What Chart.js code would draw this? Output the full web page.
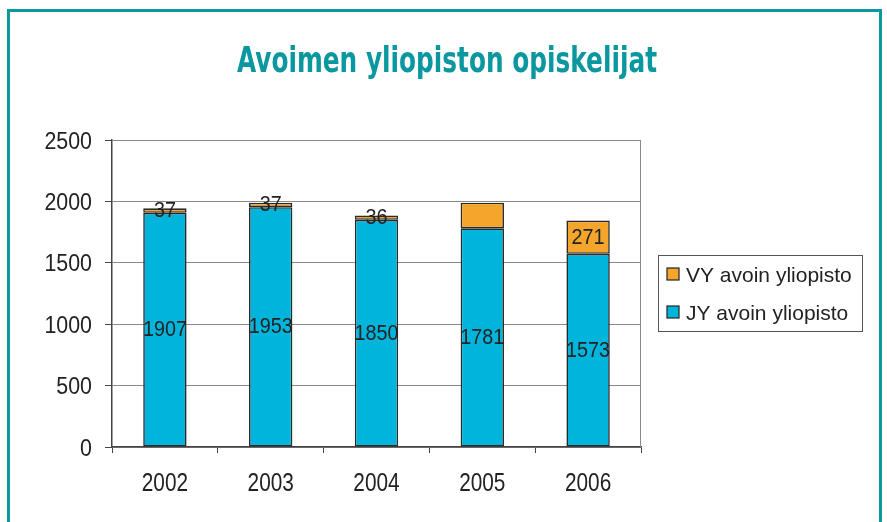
<!DOCTYPE html>
<html>
<head>
<meta charset="utf-8">
<script src="https://cdn.jsdelivr.net/npm/chart.js@4.4.1/dist/chart.umd.min.js"></script>
<style>
  html, body { margin:0; padding:0; background:#fff; overflow:hidden; }
  body { width:887px; height:522px; position:relative; }
  #frame { position:absolute; left:7px; top:9px; width:869px; height:600px; border:3px solid #0a979f; }
  #c { position:absolute; left:0; top:0; }
</style>
</head>
<body>
<div id="frame"></div>
<canvas id="c" width="887" height="522"></canvas>
<script>
// data
const years = ['2002','2003','2004','2005','2006'];
const jyValues = [1907, 1953, 1850, 1781, 1573];
const vyValues = [37, 37, 36, 208, 271];
const vyShowLabel = [true, true, true, false, true];
const yTicks = [0, 500, 1000, 1500, 2000, 2500];

const titleText = 'Avoimen yliopiston opiskelijat';
const FONT = "'Liberation Sans', Arial, sans-serif";
const NARROW = "'Liberation Sans Narrow', 'DejaVu Sans Condensed', sans-serif";

// the original uses a narrow helvetica, so squeeze text horizontally
function squeezedText(ctx, text, x, y, size, sx, align){
  ctx.save();
  ctx.font = size + 'px ' + FONT;
  ctx.textBaseline = 'alphabetic';
  const w = ctx.measureText(text).width * sx;
  let left = x;
  if (align === 'center') left = x - w / 2;
  if (align === 'right') left = x - w;
  ctx.translate(left, y);
  ctx.scale(sx, 1);
  ctx.textAlign = 'left';
  ctx.fillText(text, 0, 0);
  ctx.restore();
}

const decorPlugin = {
  id: 'decor',
  afterDatasetsDraw(chart){
    const ctx = chart.ctx;
    ctx.save();
    ctx.fillStyle = '#222';
    // labels inside the bars
    chart.data.datasets.forEach((ds, di) => {
      const meta = chart.getDatasetMeta(di);
      meta.data.forEach((bar, i) => {
        if (ds.showLabel && !ds.showLabel[i]) return;
        const mid = (bar.y + bar.base) / 2;
        squeezedText(ctx, String(ds.data[i]), bar.x, mid + 6.5, 21.5, 0.92, 'center');
      });
    });
    ctx.restore();
  },
  afterDraw(chart){
    const ctx = chart.ctx;
    const a = chart.chartArea;
    ctx.save();
    // top & right border of the plot area
    ctx.strokeStyle = '#8a8a8a';
    ctx.lineWidth = 1;
    ctx.beginPath();
    ctx.moveTo(a.left, a.top + 0.5);
    ctx.lineTo(a.right - 0.5, a.top + 0.5);
    ctx.lineTo(a.right - 0.5, a.bottom);
    ctx.stroke();

    // tick labels
    ctx.fillStyle = '#222';
    const ys = chart.scales.y;
    ys.ticks.forEach((t, i) => {
      squeezedText(ctx, String(t.value), 92, ys.getPixelForTick(i) + 8.5, 23, 0.93, 'right');
    });
    const xs = chart.scales.x;
    xs.ticks.forEach((t, i) => {
      squeezedText(ctx, chart.data.labels[i], xs.getPixelForTick(i), 491, 26, 0.8, 'center');
    });

    // title
    ctx.font = 'bold 36px ' + NARROW;
    ctx.fillStyle = '#0a979f';
    ctx.textBaseline = 'alphabetic';
    ctx.textAlign = 'left';
    const w = ctx.measureText(titleText).width;
    const sx = w > 420 ? 420 / w : 1;
    ctx.translate(447 - (w * sx) / 2, 72);
    ctx.scale(sx, 1);
    ctx.fillText(titleText, 0, 0);
    ctx.restore();

    // legend box
    ctx.save();
    ctx.strokeStyle = '#555';
    ctx.lineWidth = 1;
    ctx.strokeRect(658.5, 255.5, 204, 76);
    const items = chart.data.datasets.slice().reverse();
    items.forEach((ds, k) => {
      const cy = 274 + k * 38;
      ctx.fillStyle = ds.backgroundColor;
      ctx.fillRect(667, cy - 6, 12, 12);
      ctx.strokeStyle = '#222';
      ctx.lineWidth = 1.2;
      ctx.strokeRect(667, cy - 6, 12, 12);
      ctx.fillStyle = '#222';
      squeezedText(ctx, ds.label, 686, cy + 8, 21, 1, 'left');
    });
    ctx.restore();
  }
};

new Chart(document.getElementById('c'), {
  type: 'bar',
  data: {
    labels: years,
    datasets: [
      {
        label: 'JY avoin yliopisto',
        data: jyValues,
        backgroundColor: '#00b4dc',
        borderColor: '#2a2a2a',
        borderWidth: 1.6,
        borderSkipped: false
      },
      {
        label: 'VY avoin yliopisto',
        data: vyValues,
        showLabel: vyShowLabel,
        backgroundColor: '#f4a52c',
        borderColor: '#2a2a2a',
        borderWidth: 1.6,
        borderSkipped: false
      }
    ]
  },
  options: {
    responsive: false,
    animation: false,
    layout: { padding: { top: 140, right: 246, left: 0, bottom: 0 } },
    plugins: {
      legend: { display: false },
      title: { display: false },
      tooltip: { enabled: false }
    },
    datasets: { bar: { categoryPercentage: 1, barPercentage: 0.41 } },
    scales: {
      x: {
        stacked: true,
        grid: { drawOnChartArea: false, tickLength: 6, color: '#444', offset: true },
        border: { color: '#444', width: 1.5 },
        ticks: { display: false },
        afterFit(s){ s.height = 75; }
      },
      y: {
        stacked: true,
        min: 0,
        max: 2500,
        afterBuildTicks(s){ s.ticks = yTicks.map(v => ({ value: v })); },
        grid: { color: '#8a8a8a', tickLength: 7, tickColor: '#444' },
        border: { color: '#444', width: 1.5 },
        ticks: { display: false },
        afterFit(s){ s.width = 112; }
      }
    }
  },
  plugins: [decorPlugin]
});
</script>
</body>
</html>
